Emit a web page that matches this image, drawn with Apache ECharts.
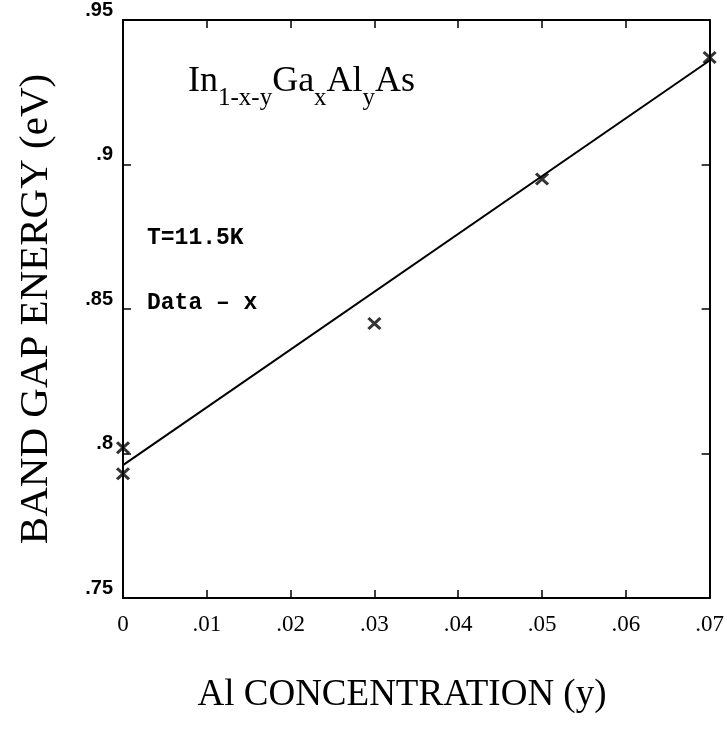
<!DOCTYPE html>
<html>
<head>
<meta charset="utf-8">
<script src="https://cdn.jsdelivr.net/npm/echarts@6/dist/echarts.min.js"></script>
<style>html,body{margin:0;padding:0;background:#fff;}#c{width:727px;height:729px;}</style>
</head>
<body>
<div id="c"></div>
<script>
// Data
const alConc = [0, 0, 0.03, 0.05, 0.07];
const gapEnergy = [0.802, 0.793, 0.845, 0.895, 0.937];
const fitConc = [0, 0.07];
const fitEnergy = [0.796, 0.936];
const xTicks = [0, 0.01, 0.02, 0.03, 0.04, 0.05, 0.06, 0.07];
const yTicks = [0.75, 0.8, 0.85, 0.9, 0.95];
// Formula pieces: [text, isSubscript]
const formulaParts = [['In', false], ['1-x-y', true], ['Ga', false], ['x', true], ['Al', false], ['y', true], ['As', false]];

const fmt = v => {
  const r = +(+v).toFixed(3);
  if (r === 0) return '0';
  return String(r).replace(/^0/, '');
};

// Build formula text pieces with measured widths
const ctx = document.createElement('canvas').getContext('2d');
const mainSize = 36, subSize = 25;
const formulaEls = [];
let fx = 188;
formulaParts.forEach(([t, sub]) => {
  const size = sub ? subSize : mainSize;
  ctx.font = size + 'px "Liberation Serif"';
  const w = ctx.measureText(t).width;
  formulaEls.push({
    type: 'text', x: fx, y: sub ? 111 : 100, z: 10,
    style: {text: t, fontFamily: 'Liberation Serif', fontSize: size, fill: '#000', verticalAlign: 'bottom', align: 'left'}
  });
  fx += w;
});

const chart = echarts.init(document.getElementById('c'), null, {renderer: 'canvas'});
const axisCommon = {
  axisLine: {show: true, onZero: false, lineStyle: {color: '#000', width: 2}},
  axisTick: {show: true, inside: true, length: 8, lineStyle: {color: '#000', width: 1.5}},
  splitLine: {show: false}
};
chart.setOption({
  animation: false,
  backgroundColor: '#fff',
  grid: {left: 123, right: 15, top: 14, bottom: 131},
  xAxis: [
    Object.assign({
      type: 'value', min: xTicks[0], max: xTicks[xTicks.length - 1], interval: 0.01,
      position: 'bottom',
      axisLabel: {formatter: fmt, color: '#000', fontFamily: 'Liberation Serif', fontSize: 23, margin: 15}
    }, axisCommon),
    Object.assign({
      type: 'value', min: xTicks[0], max: xTicks[xTicks.length - 1], interval: 0.01,
      position: 'top', axisLabel: {show: false}
    }, axisCommon)
  ],
  yAxis: [
    Object.assign({
      type: 'value', min: yTicks[0], max: yTicks[yTicks.length - 1], interval: 0.05,
      position: 'left',
      axisLabel: {formatter: fmt, color: '#000', fontFamily: 'Liberation Sans', fontWeight: 'bold', fontSize: 20, margin: 10, verticalAlign: 'bottom'}
    }, axisCommon),
    Object.assign({
      type: 'value', min: yTicks[0], max: yTicks[yTicks.length - 1], interval: 0.05,
      position: 'right', axisLabel: {show: false}
    }, axisCommon)
  ],
  series: [
    {
      type: 'line',
      data: fitConc.map((x, i) => [x, fitEnergy[i]]),
      showSymbol: false,
      lineStyle: {color: '#000', width: 2},
      z: 3
    },
    {
      type: 'scatter',
      data: alConc.map((x, i) => [x, gapEnergy[i]]),
      symbol: 'path://M0,0L10,10M10,0L0,10',
      symbolSize: [12, 11],
      itemStyle: {color: 'rgba(0,0,0,0)', borderColor: '#000', borderWidth: 3},
      z: 4
    }
  ],
  graphic: formulaEls.concat([
    {
      type: 'text', x: 147, y: 238, z: 10,
      style: {text: 'T=11.5K', fontFamily: 'Liberation Mono', fontWeight: 'bold', fontSize: 23, fill: '#000', verticalAlign: 'middle', align: 'left'}
    },
    {
      type: 'text', x: 147, y: 303, z: 10,
      style: {text: 'Data \u2013 x', fontFamily: 'Liberation Mono', fontWeight: 'bold', fontSize: 23, fill: '#000', verticalAlign: 'middle', align: 'left'}
    },
    {
      type: 'text', x: 402, y: 695, z: 10,
      style: {text: 'Al CONCENTRATION (y)', fontFamily: 'Liberation Serif', fontSize: 37, fill: '#000', verticalAlign: 'middle', align: 'center'}
    },
    {
      type: 'text', x: 36, y: 309, rotation: Math.PI / 2, z: 10,
      style: {text: 'BAND GAP ENERGY (eV)', fontFamily: 'Liberation Serif', fontSize: 41, fill: '#000', verticalAlign: 'middle', align: 'center'}
    }
  ])
});
</script>
</body>
</html>
